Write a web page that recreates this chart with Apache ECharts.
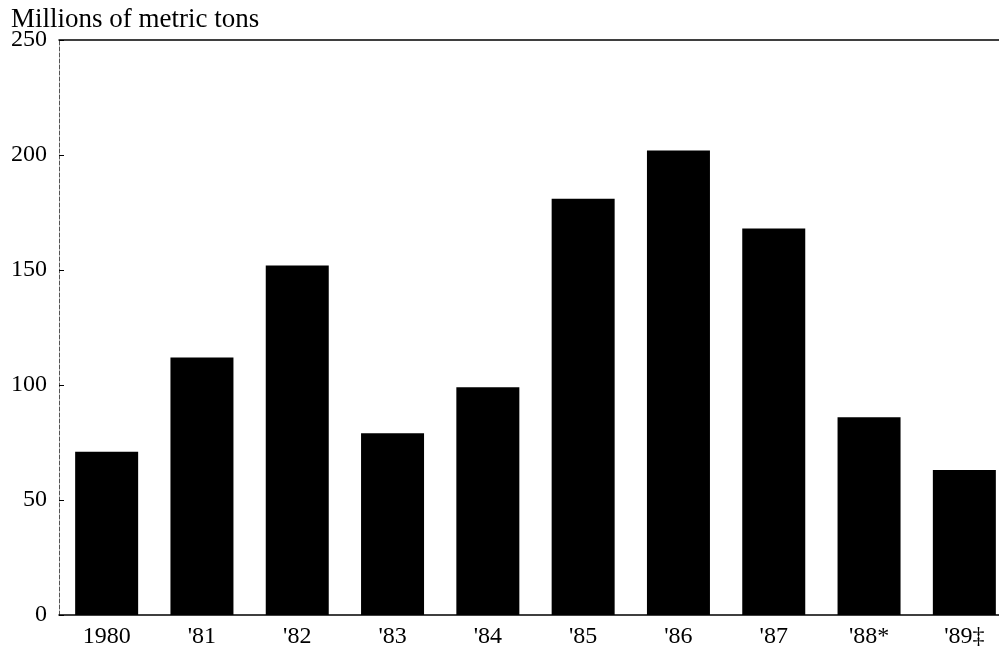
<!DOCTYPE html>
<html>
<head>
<meta charset="utf-8">
<script src="https://cdn.jsdelivr.net/npm/echarts@6/dist/echarts.min.js"></script>
<style>
html, body { margin: 0; padding: 0; background: #fff; }
#chart { width: 999px; height: 655px; }
</style>
</head>
<body>
<div id="chart"></div>
<script>
// Years and tonnage (millions of metric tons)
var years = ['1980', "'81", "'82", "'83", "'84", "'85", "'86", "'87", "'88*", "'89\u2021"];
var tons = [71, 112, 152, 79, 99, 181, 202, 168, 86, 63];
var yTicks = [0, 50, 100, 150, 200, 250];

var chart = echarts.init(document.getElementById('chart'));

var option = {
    backgroundColor: '#fff',
    animation: false,
    title: {
        text: 'Millions of metric tons',
        left: 6,
        top: 1,
        textStyle: {
            color: '#000',
            fontFamily: 'Liberation Serif',
            fontWeight: 'normal',
            fontSize: 27
        }
    },
    grid: {
        left: 59,
        top: 40,
        right: -13,
        bottom: 40,
        outerBoundsMode: 'none',
        containLabel: false
    },
    xAxis: [
        {
            type: 'category',
            data: years,
            axisLine: { lineStyle: { color: '#000', width: 1.5 } },
            axisTick: { show: false },
            axisLabel: {
                color: '#000',
                fontFamily: 'Liberation Serif',
                fontSize: 24,
                margin: 10
            }
        },
        {
            type: 'category',
            position: 'top',
            data: years,
            axisLine: { lineStyle: { color: '#000', width: 1.5 } },
            axisTick: { show: false },
            axisLabel: { show: false }
        }
    ],
    yAxis: {
        type: 'value',
        min: yTicks[0],
        max: yTicks[yTicks.length - 1],
        interval: 50,
        axisLine: { show: true, lineStyle: { color: '#555', width: 1, type: 'dashed' } },
        axisTick: { show: true, inside: true, length: 5, lineStyle: { color: '#000' } },
        splitLine: { show: false },
        axisLabel: {
            color: '#000',
            fontFamily: 'Liberation Serif',
            fontSize: 24,
            margin: 12
        }
    },
    series: [
        {
            type: 'bar',
            data: tons,
            barWidth: 63,
            itemStyle: { color: '#000' }
        }
    ]
};

chart.setOption(option);
</script>
</body>
</html>
